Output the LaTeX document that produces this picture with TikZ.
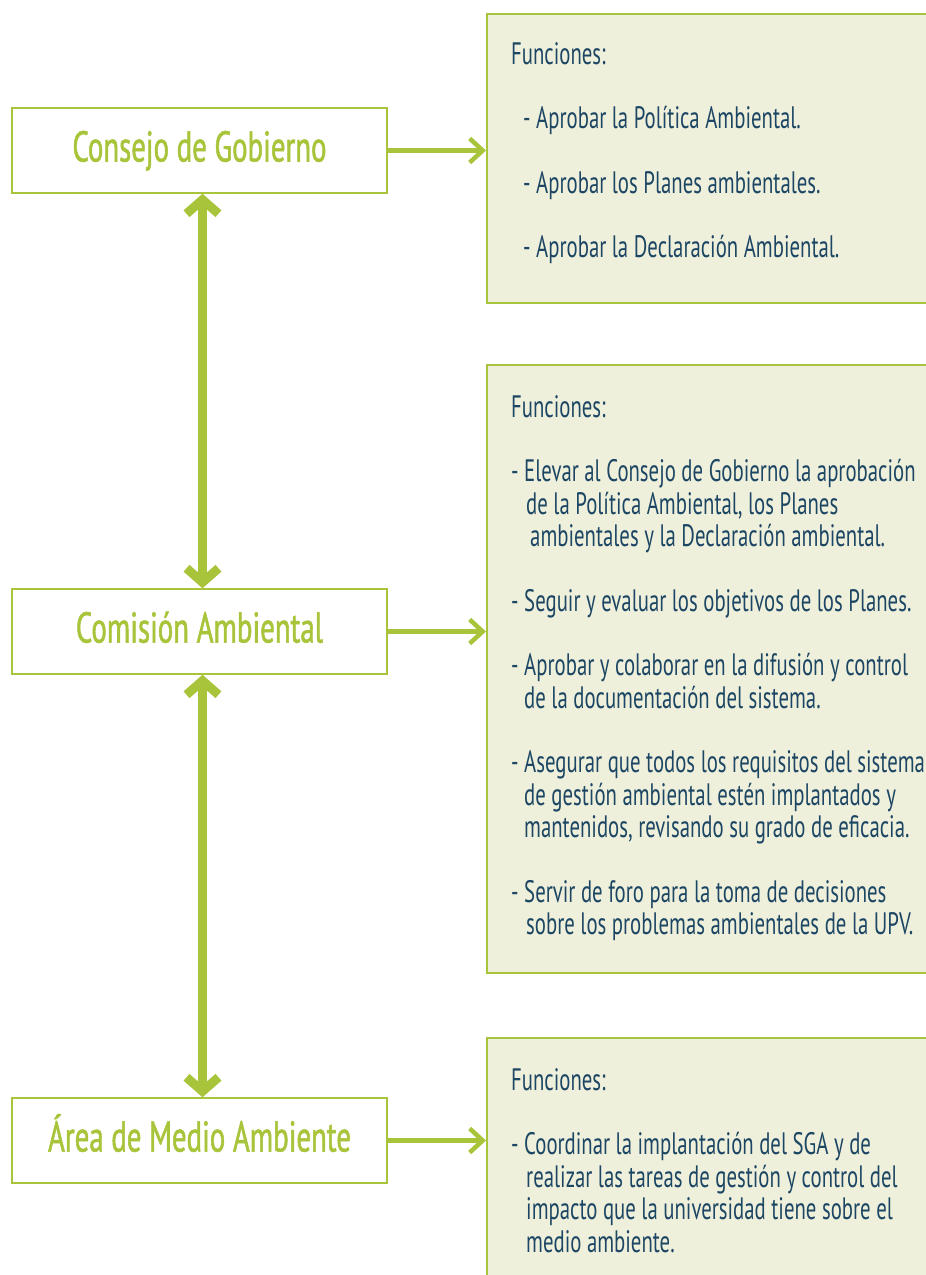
\documentclass[tikz,border=0pt]{standalone}
\usepackage{fontspec}
\setmainfont{PT Sans}[FakeStretch=0.67]
\newfontfamily\organofont{PT Sans}[FakeStretch=0.67,FakeBold=1.2]
\usetikzlibrary{arrows.meta}
\usetikzlibrary{positioning}
\definecolor{upvgreen}{HTML}{A8C43A}
\definecolor{panelfill}{HTML}{EFF0DC}
\definecolor{textblue}{HTML}{1C4663}
\tikzset{
	organo/.style={draw=upvgreen, line width=1.5pt, minimum width=375pt, minimum height=85pt,
		inner sep=0pt, text=upvgreen, font=\organofont\fontsize{43}{48}\selectfont, text height=30pt, text depth=8pt},
	panel/.style={draw=upvgreen, line width=1.8pt, fill=panelfill, anchor=north west,
		minimum width=460pt, inner sep=0pt},
	funciones/.style={inner sep=0pt, align=left, text=textblue, font=\fontsize{31}{32.5}\selectfont},
	enlace/.style={upvgreen, line width=9pt,
		{Straight Barb[length=14pt,width=32pt]}-{Straight Barb[length=14pt,width=32pt]}},
	hacia/.style={upvgreen, line width=4.5pt, -{Straight Barb[length=13pt,width=24pt]}}
}

\begin{document}
\begin{tikzpicture}[x=1pt, y=-1pt]
	
	\useasboundingbox (0,0) rectangle (926,1275);
	
	% organos
	\node [organo] (cons) at (199.5,150.5) {Consejo de Gobierno};
	\node [organo] (comi) at (199.5,631.5) {Comisión Ambiental};
	\node [organo] (area) at (199.5,1140.5) {Área de Medio Ambiente};
	
	% paneles de funciones
	\node [panel, minimum height=289pt] (p1) at (486,13) {};
	\node [panel, minimum height=608pt] (p2) at (486,364) {};
	\node [panel, minimum height=270pt] (p3) at (486,1037) {};
	
	\node [funciones, below right=29pt and 25pt of p1.north west] (t1) {Funciones:\\[32pt]
		\hspace*{12pt}- Aprobar la Política Ambiental.\\[32pt]
		\hspace*{12pt}- Aprobar los Planes ambientales.\\[32pt]
		\hspace*{12pt}- Aprobar la Declaración Ambiental.};
	
	\node [funciones, below right=31pt and 25pt of p2.north west] (t2) {Funciones:\\[32pt]
		- Elevar al Consejo de Gobierno la aprobación\\
		\hspace*{15pt}de la Política Ambiental, los Planes\\
		\hspace*{19pt}ambientales y la Declaración ambiental.\\[32pt]
		- Seguir y evaluar los objetivos de los Planes.\\[32pt]
		- Aprobar y colaborar en la difusión y control\\
		\hspace*{13pt}de la documentación del sistema.\\[32pt]
		- Asegurar que todos los requisitos del sistema\\
		\hspace*{13pt}de gestión ambiental estén implantados y\\
		\hspace*{13pt}mantenidos, revisando su grado de eficacia.\\[32pt]
		- Servir de foro para la toma de decisiones\\
		\hspace*{15pt}sobre los problemas ambientales de la UPV.};
	
	\node [funciones, below right=31pt and 25pt of p3.north west] (t3) {Funciones:\\[32pt]
		- Coordinar la implantación del SGA y de\\
		\hspace*{15pt}realizar las tareas de gestión y control del\\
		\hspace*{15pt}impacto que la universidad tiene sobre el\\
		\hspace*{15pt}medio ambiente.};
	
	% flechas
	\draw [hacia] (cons.east) -- (cons.east -| p1.west);
	\draw [hacia] (comi.east) -- (comi.east -| p2.west);
	\draw [hacia] (area.east) -- (area.east -| p3.west);
	
	\draw [enlace] ([xshift=3pt]cons.south) -- ([xshift=3pt]comi.north);
	\draw [enlace] ([xshift=3pt]comi.south) -- ([xshift=3pt]area.north);
	
\end{tikzpicture}
\end{document}
